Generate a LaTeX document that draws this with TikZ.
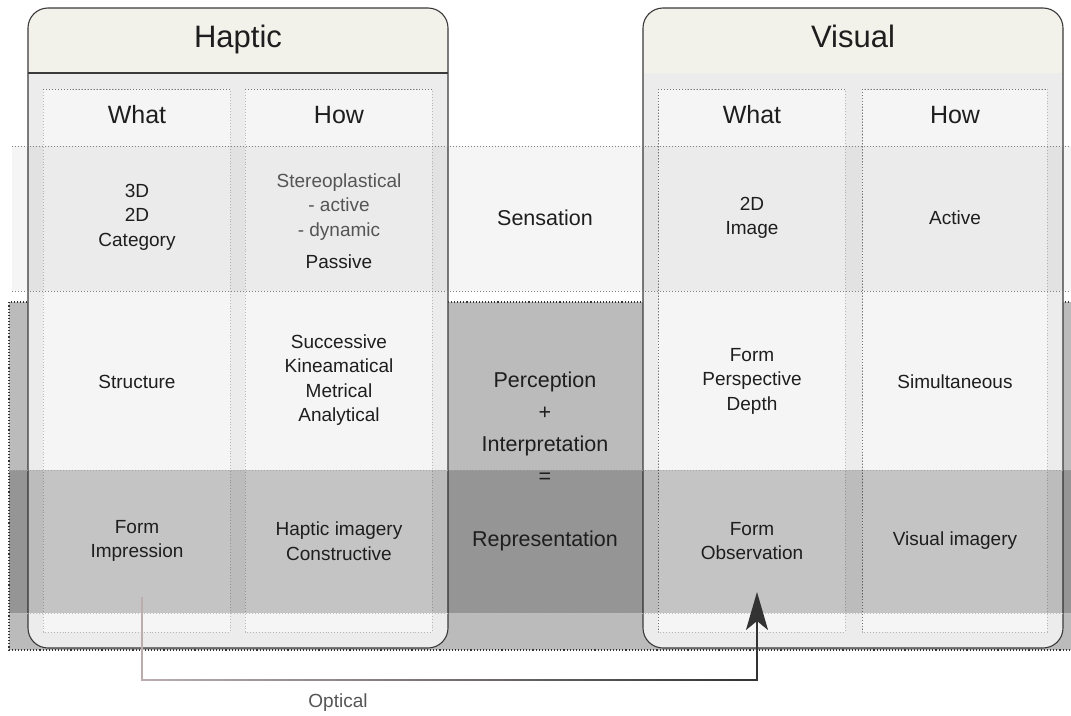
\documentclass[tikz,border=0pt]{standalone}
\usepackage{fontspec}
\setmainfont{Liberation Sans}
\usetikzlibrary{arrows.meta,fadings}
\definecolor{hdr}{HTML}{F2F1EA}
\definecolor{pbody}{HTML}{ECECEC}
\definecolor{colfill}{HTML}{F5F5F5}
\definecolor{bandgray}{HTML}{BBBBBB}
\definecolor{edgec}{HTML}{3A3A3A}
\definecolor{txt}{HTML}{1E1E1E}
\definecolor{lighttxt}{HTML}{555555}
\definecolor{arrowdark}{HTML}{333333}
\definecolor{arrowlight}{HTML}{BCAEAE}
\tikzset{
  panelbox/.style={draw=edgec, line width=1.1pt, rounded corners=20pt},
  colbox/.style={fill=colfill, draw=gray!55, dotted, line width=0.9pt},
  coltop/.style={draw=gray!90!black, dotted, line width=1pt},
  bandline/.style={draw=gray, dotted, line width=1pt},
  hdrtxt/.style={text=txt, font=\fontsize{31}{36}\selectfont, anchor=base},
  coltxt/.style={text=txt, font=\fontsize{25}{30}\selectfont, anchor=base},
  midtxt/.style={text=txt, font=\fontsize{21.5}{32}\selectfont, align=center},
  celltxt/.style={text=txt, font=\fontsize{19}{24.5}\selectfont, align=center},
  conn/.style={line width=2.2pt},
}
\begin{document}
\begin{tikzpicture}[x=1pt,y=-1pt]
\useasboundingbox (0,0) rectangle (1071,715);
% big gray band (perception + representation)
\fill[bandgray] (9,302) rectangle (1072,650);
\draw[draw=black!80, dotted, line width=1.1pt] (1072,302) -- (9,302) -- (9,650) -- (1072,650);
% Haptic panel
\fill[pbody, rounded corners=20pt] (28,8) rectangle (448,648);
\fill[hdr] (28,73) [rounded corners=20pt] -- (28,8) -- (448,8) [sharp corners] -- (448,73) -- cycle;
\draw[panelbox] (28,8) rectangle (448,648);
\draw[edgec, line width=1.1pt] (28,73) -- (448,73);
% Visual panel
\fill[pbody, rounded corners=20pt] (643,8) rectangle (1063,648);
\fill[hdr] (643,73) [rounded corners=20pt] -- (643,8) -- (1063,8) [sharp corners] -- (1063,73) -- cycle;
\draw[panelbox] (643,8) rectangle (1063,648);
% inner columns
\draw[colbox] (43,89) rectangle (230,632);
\draw[colbox] (245,89) rectangle (432,632);
\draw[colbox] (658,89) rectangle (845,632);
\draw[colbox] (862,89) rectangle (1047,632);
\draw[coltop] (43,89) -- (230,89);
\draw[coltop] (245,89) -- (432,89);
\draw[coltop] (658,89) -- (845,89);
\draw[coltop] (862,89) -- (1047,89);
\draw[coltop] (658,89) -- (658,632);
\draw[coltop] (862,89) -- (862,632);
% sensation band
\fill[black, opacity=0.04] (12,146) rectangle (1072,291);
\draw[bandline] (12,146) -- (1072,146);
\draw[bandline] (12,291) -- (1072,291);
% representation band
\fill[black, opacity=0.2] (9,470) rectangle (1072,613);
\draw[bandline, draw=gray!70] (9,470) -- (1072,470);
\draw[bandline, draw=gray!50] (9,613) -- (1072,613);
% headers
\node[hdrtxt] (haptic) at (238,47) {Haptic};
\node[hdrtxt] (visual) at (853,47) {Visual};
\node[coltxt] (hwhat) at (137,123) {What};
\node[coltxt] (hhow) at (339,123) {How};
\node[coltxt] (vwhat) at (752,123) {What};
\node[coltxt] (vhow) at (955,123) {How};
% sensation row
\node[celltxt] (s1) at (137,217) {3D\\2D\\Category};
\node[celltxt, text=lighttxt] (s2) at (339,221) {Stereoplastical\\- active\\- dynamic\\[8pt]\textcolor{txt}{Passive}};
\node[midtxt] (sens) at (545,218) {Sensation};
\node[celltxt] (s3) at (752,218) {2D\\Image};
\node[celltxt] (s4) at (955,218) {Active};
% perception row
\node[celltxt] (p1) at (137,382) {Structure};
\node[celltxt] (p2) at (339,380) {Successive\\Kineamatical\\Metrical\\Analytical};
\node[midtxt] (perc) at (545,428) {Perception\\+\\Interpretation\\=};
\node[celltxt] (p3) at (752,381) {Form\\Perspective\\Depth};
\node[celltxt] (p4) at (955,382) {Simultaneous};
% representation row
\node[celltxt] (formimp) at (137,541) {Form\\Impression};
\node[celltxt] (r2) at (339,541) {Haptic imagery\\Constructive};
\node[midtxt] (repr) at (545,541) {Representation};
\node[celltxt] (formobs) at (752,541) {Form\\Observation};
\node[celltxt] (r4) at (955,541) {Visual imagery};
% connector
\coordinate (from) at (142,597);
\coordinate (turn) at (450,680);
\coordinate (to) at (757,592);
\draw[conn, arrowdark, -{Stealth[length=38pt,width=22pt,inset=9pt]}] (from) |- (turn) -| (to);
\draw[conn, arrowlight, path fading=east] (from) |- (turn) -| (to);
\node[text=lighttxt, font=\fontsize{19}{24}\selectfont] (optical) at (338,703) {Optical};
\end{tikzpicture}
\end{document}
